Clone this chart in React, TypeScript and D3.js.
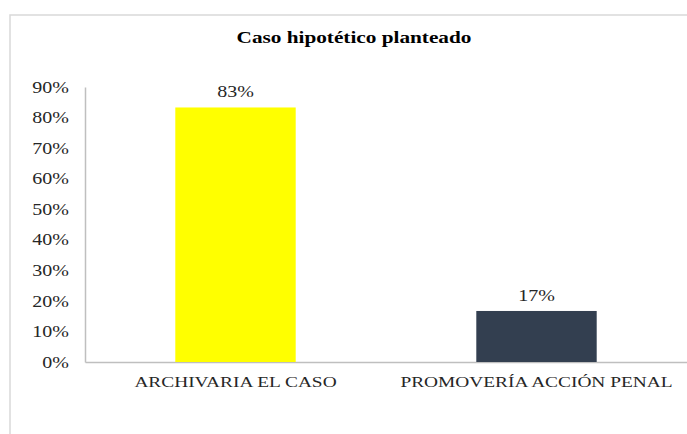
import { useEffect, useRef } from "react";
import * as d3 from "d3";

const categories = ["ARCHIVARIA EL CASO", "PROMOVERÍA ACCIÓN PENAL"];
const values = [0.833, 0.167];
const valueLabels = ["83%", "17%"];
const colors = ["#FFFF00", "#333F50"];
const yTicks = [0, 0.1, 0.2, 0.3, 0.4, 0.5, 0.6, 0.7, 0.8, 0.9];
const title = "Caso hipotético planteado";

// the source image has its text stretched horizontally
const SX = 1.25;

const App = () => {
  const svgRef = useRef<SVGSVGElement>(null);

  useEffect(() => {
    const width = 687;
    const height = 434;
    const margin = { top: 87, right: 0, bottom: 72, left: 85 };
    const font = "'Liberation Serif', 'Times New Roman', serif";

    const svg = d3.select(svgRef.current);
    svg.selectAll("*").remove();

    // chart frame (only top and left edges fall inside the picture)
    svg.append("path")
      .attr("d", `M10,${height} V15 H${width}`)
      .attr("fill", "none")
      .attr("stroke", "#d9d9d9")
      .attr("stroke-width", 1.5);

    svg.append("text")
      .attr("x", 354 / SX)
      .attr("y", 43)
      .attr("transform", `scale(${SX},1)`)
      .attr("text-anchor", "middle")
      .attr("font-family", font)
      .attr("font-weight", "bold")
      .attr("font-size", 17)
      .attr("fill", "#000")
      .text(title);

    const x = d3.scaleBand()
      .domain(categories)
      .range([margin.left, width - margin.right])
      .paddingInner(0.6)
      .paddingOuter(0.3);

    const y = d3.scaleLinear()
      .domain([0, 0.9])
      .range([height - margin.bottom, margin.top]);

    // Y axis
    svg.append("g")
      .attr("transform", `translate(${margin.left},0)`)
      .call(d3.axisLeft(y).tickValues(yTicks).tickFormat(d3.format(".0%")).tickSize(0).tickPadding(15))
      .call(g => g.select(".domain").attr("stroke", "#bfbfbf").attr("stroke-width", 1.5))
      .call(g => g.selectAll(".tick text")
        .attr("x", -16 / SX)
        .attr("transform", `scale(${SX},1)`)
        .attr("font-family", font)
        .attr("font-size", 16)
        .attr("fill", "#262626"));

    // X axis
    svg.append("g")
      .attr("transform", `translate(0,${height - margin.bottom})`)
      .call(d3.axisBottom(x).tickSize(0).tickPadding(14))
      .call(g => g.select(".domain").attr("stroke", "#bfbfbf").attr("stroke-width", 1.5))
      .call(g => g.selectAll(".tick text")
        .attr("transform", `scale(${SX},1)`)
        .attr("font-family", font)
        .attr("font-size", 15.5)
        .attr("fill", "#262626"));

    const rows = categories.map((c, i) => ({ c, v: values[i], label: valueLabels[i], color: colors[i] }));

    // Bars
    svg.append("g")
      .selectAll("rect")
      .data(rows)
      .join("rect")
      .attr("x", d => x(d.c)!)
      .attr("y", d => y(d.v))
      .attr("width", x.bandwidth())
      .attr("height", d => y(0) - y(d.v))
      .attr("fill", d => d.color);

    // Labels
    svg.append("g")
      .selectAll("text")
      .data(rows)
      .join("text")
      .attr("x", d => (x(d.c)! + x.bandwidth() / 2) / SX)
      .attr("y", d => y(d.v) - 10)
      .attr("transform", `scale(${SX},1)`)
      .attr("text-anchor", "middle")
      .attr("font-family", font)
      .attr("font-size", 16)
      .attr("fill", "#262626")
      .text(d => d.label);
  }, []);

  return (
    <svg
      ref={svgRef}
      width={687}
      height={434}
      style={{ position: "absolute", left: 0, top: 0, background: "#fff" }}
    />
  );
};

export default App;
